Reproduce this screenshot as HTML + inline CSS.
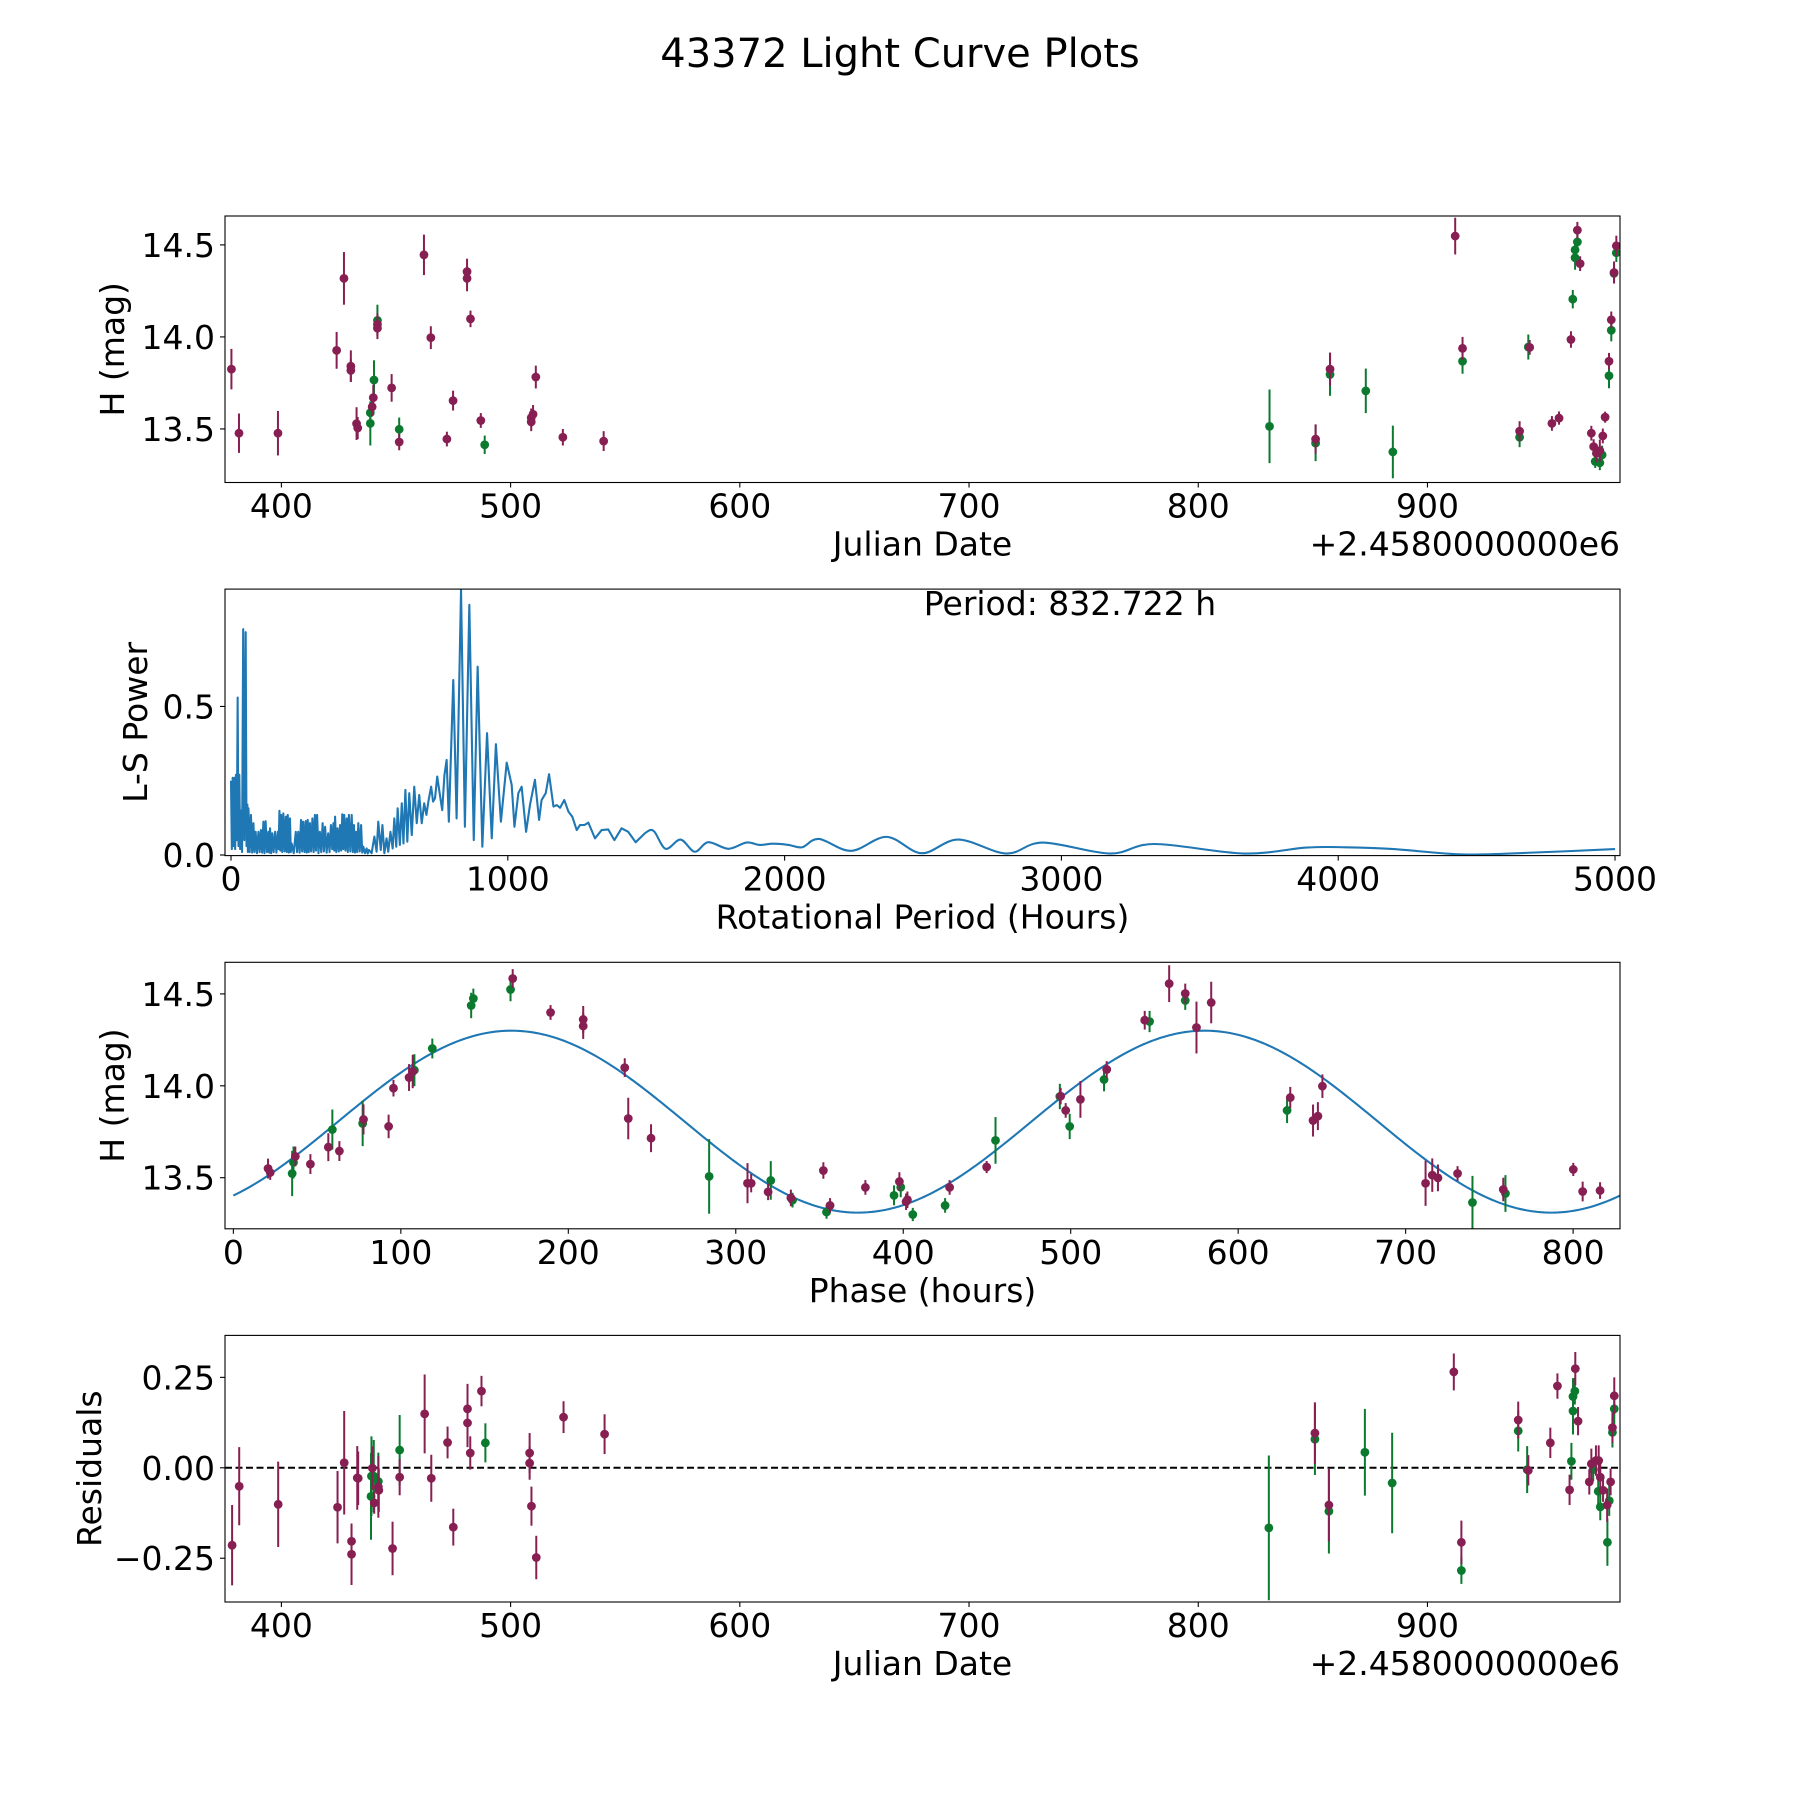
<!DOCTYPE html>
<html>
<head>
<meta charset="utf-8">
<style>
html,body{margin:0;padding:0;background:#fff;}
svg{display:block;font-family:"DejaVu Sans","Liberation Sans",sans-serif;}
</style>
</head>
<body>
<svg id="fig" width="1800" height="1800" viewBox="0 0 1800 1800" xmlns="http://www.w3.org/2000/svg">
<rect width="1800" height="1800" fill="#fff"/>
<text x="900" y="67" font-size="40" text-anchor="middle">43372 Light Curve Plots</text>
</svg>
<script>
// ---------- Panel 1: light curve ----------
const p1Dates=[378.2,381.5,398.5,424.1,427.3,430.3,430.3,432.8,433.3,438.8,438.8,439.6,440.1,440.4,441.9,441.9,441.9,448.1,451.4,451.4,462.2,465.2,472.2,474.9,481.0,481.0,482.5,487.0,488.7,509.0,509.0,509.8,511.0,522.8,540.6,831.1,851.2,851.2,857.5,857.5,873.1,884.9,912.1,915.3,915.3,940.2,940.2,944.0,944.6,954.3,957.4,962.6,963.4,964.4,964.4,965.4,965.4,966.6,971.5,972.5,973.2,973.7,975.2,975.2,976.2,976.5,977.5,979.2,979.2,980.2,980.2,981.4,981.4,982.4,982.4];
const p1Mags=[13.825,13.477,13.477,13.927,14.318,13.841,13.818,13.529,13.505,13.53,13.588,13.62,13.67,13.766,14.09,14.068,14.048,13.723,13.498,13.429,14.446,13.996,13.445,13.654,14.355,14.318,14.098,13.546,13.414,13.538,13.561,13.58,13.782,13.455,13.434,13.514,13.445,13.423,13.825,13.796,13.707,13.375,14.548,13.938,13.868,13.488,13.455,13.945,13.943,13.53,13.559,13.986,14.205,14.473,14.43,14.516,14.58,14.398,13.477,13.404,13.323,13.368,13.316,13.382,13.359,13.462,13.564,13.868,13.789,14.093,14.036,14.35,14.345,14.495,14.457];
const p1Errs=[0.11,0.107,0.121,0.10,0.143,0.086,0.06,0.089,0.06,0.12,0.04,0.05,0.07,0.107,0.085,0.06,0.06,0.075,0.064,0.045,0.11,0.062,0.04,0.054,0.07,0.07,0.045,0.04,0.05,0.05,0.05,0.05,0.062,0.045,0.054,0.2,0.08,0.098,0.09,0.116,0.121,0.143,0.1,0.062,0.068,0.054,0.054,0.068,0.04,0.04,0.036,0.045,0.05,0.05,0.065,0.05,0.045,0.04,0.04,0.04,0.035,0.05,0.04,0.06,0.05,0.04,0.03,0.045,0.068,0.045,0.06,0.06,0.05,0.055,0.05];
const p1Colors=["m","m","m","m","m","m","m","m","m","g","g","m","m","g","g","m","m","m","g","m","m","m","m","m","m","m","m","m","g","m","m","m","m","m","m","g","m","g","m","g","g","g","m","m","g","m","g","g","m","m","m","m","g","g","g","g","m","m","m","m","g","m","g","m","g","m","m","m","g","m","g","m","g","m","g"];
const p1XTicks=[400,500,600,700,800,900];
const p1YTicks=[13.5,14.0,14.5];
const p1YTickLabels=["13.5","14.0","14.5"];

// ---------- Panel 2: periodogram ----------
const lsShortPeriods=[0,3,6,9,12,15,18,21,24,27,30,33,36,40,44,48,53,56,59,61];
const lsShortPowers=[0.25,0.02,0.26,0.03,0.26,0.02,0.27,0.05,0.53,0.03,0.27,0.02,0.15,0.01,0.76,0.05,0.75,0.03,0.17,0.01];
const lsNoisePeakPeriods=[63,72,81,89,99,108,117,125,135,141,149,159,169,175,181,189,198,205,213,219,234,243,253,261,270,277,285,294,303,311,321,331,340,351,361,370,376,385,394,402,409,418,426,436,444,452,460,470,478,490,498];
const lsNoisePeakPowers=[0.157,0.135,0.107,0.078,0.078,0.084,0.112,0.114,0.078,0.09,0.073,0.078,0.078,0.149,0.135,0.14,0.129,0.135,0.123,0.039,0.078,0.078,0.118,0.112,0.114,0.118,0.107,0.123,0.135,0.135,0.078,0.107,0.095,0.073,0.101,0.107,0.129,0.09,0.101,0.137,0.135,0.123,0.135,0.135,0.101,0.078,0.107,0.101,0.028,0.022,0.017];
const lsNoiseValleyPowers=[0.01,0.008,0.01,0.006,0.01,0.008,0.006,0.01,0.008,0.006,0.01,0.008,0.02,0.015,0.01,0.012,0.01,0.008,0.01,0.006,0.01,0.008,0.012,0.01,0.008,0.01,0.012,0.01,0.015,0.006,0.01,0.012,0.008,0.01,0.02,0.015,0.01,0.012,0.015,0.02,0.015,0.01,0.012,0.01,0.008,0.01,0.012,0.008,0.006,0.005];
const lsMidPeriods=[508,518,526,532,541,547,554,562,568,576,584,590,597,602,610,617,623,630,637,644,653,662,671,680,689,698,706,713,723,730,737,745,753,763,771,779,787,803,815,831,845,861,877,891,908,925,942,957,975,996,1014,1024,1038,1050,1066,1080,1098,1113,1122,1137,1149,1165,1177,1189,1204,1219,1233,1249,1261,1277,1291,1315,1339,1363,1385,1411,1435,1462,1495];
const lsMidPowers=[0.006,0.062,0.011,0.112,0.017,0.101,0.006,0.056,0.011,0.078,0.022,0.123,0.028,0.157,0.034,0.174,0.039,0.219,0.045,0.208,0.067,0.23,0.107,0.202,0.107,0.174,0.135,0.18,0.23,0.18,0.191,0.264,0.213,0.151,0.269,0.32,0.112,0.589,0.123,0.892,0.095,0.842,0.05,0.634,0.028,0.41,0.056,0.373,0.112,0.311,0.236,0.095,0.208,0.23,0.078,0.168,0.253,0.118,0.185,0.208,0.272,0.163,0.168,0.159,0.185,0.146,0.129,0.084,0.101,0.101,0.109,0.056,0.084,0.086,0.05,0.09,0.078,0.043,0.073];
const lsTailPeriods=[1527,1570,1624,1675,1724,1797,1862,1910,1958,2014,2063,2124,2240,2369,2495,2627,2801,2933,3175,3336,3659,3885,4027,4200,4450,4700,5000];
const lsTailPowers=[0.081,0.021,0.052,0.011,0.043,0.021,0.042,0.034,0.038,0.034,0.026,0.054,0.014,0.061,0.006,0.052,0.005,0.042,0.005,0.037,0.005,0.025,0.026,0.02,0.002,0.008,0.02];
const lsXTicks=[0,1000,2000,3000,4000,5000];
const lsYTicks=[0.0,0.5];
const lsYTickLabels=["0.0","0.5"];
const bestPeriodLabel=["Period: 832.722 h"];

// ---------- Panel 3: phased curve ----------
const phHours=[20.7,22.0,35.1,35.9,37.0,46.0,56.7,59.1,63.3,77.2,77.7,92.7,95.6,104.9,107.1,108.1,118.8,142.0,143.3,165.5,166.8,189.4,208.9,208.9,233.7,235.8,249.4,284.1,307.0,309.2,319.3,320.9,332.9,333.9,352.3,354.2,356.3,377.4,394.5,397.7,398.5,401.7,402.5,405.7,425.0,427.7,449.8,455.1,493.5,494.0,497.0,499.4,505.8,519.9,521.5,544.2,547.1,558.8,568.4,568.4,575.1,583.9,629.2,631.1,644.7,647.6,650.3,711.9,715.9,719.3,731.0,739.9,758.3,759.6,800.1,805.7,816.1];
const phMags=[13.55,13.528,13.523,13.583,13.616,13.574,13.666,13.762,13.645,13.795,13.817,13.779,13.987,14.045,14.078,14.085,14.203,14.437,14.475,14.524,14.584,14.399,14.361,14.325,14.099,13.822,13.715,13.507,13.47,13.47,13.423,13.485,13.39,13.378,13.539,13.313,13.349,13.447,13.404,13.479,13.448,13.369,13.38,13.30,13.349,13.447,13.558,13.703,13.942,13.944,13.866,13.779,13.926,14.034,14.089,14.357,14.35,14.556,14.502,14.464,14.317,14.453,13.866,13.936,13.811,13.835,13.998,13.47,13.514,13.499,13.523,13.365,13.436,13.414,13.545,13.425,13.43];
const phErrs=[0.054,0.04,0.123,0.087,0.054,0.054,0.076,0.109,0.054,0.123,0.082,0.064,0.045,0.073,0.091,0.087,0.054,0.069,0.054,0.064,0.051,0.04,0.073,0.07,0.051,0.113,0.076,0.203,0.109,0.05,0.045,0.105,0.045,0.04,0.045,0.036,0.04,0.04,0.054,0.051,0.054,0.045,0.045,0.036,0.04,0.04,0.033,0.127,0.069,0.045,0.04,0.069,0.1,0.064,0.045,0.051,0.058,0.1,0.054,0.051,0.141,0.113,0.069,0.058,0.087,0.076,0.064,0.123,0.091,0.073,0.04,0.145,0.064,0.1,0.036,0.054,0.045];
const phColors=["m","m","g","g","m","m","m","g","m","g","m","m","m","m","m","g","g","g","g","g","m","m","m","m","m","m","m","g","m","m","m","g","m","g","m","g","m","m","g","m","g","m","m","g","g","m","m","g","g","m","m","g","m","g","m","m","g","m","m","g","m","m","g","m","m","m","m","m","m","m","m","g","m","g","m","m","m"];
// fitted sinusoid parameters: mean, amplitude, half-period (h), phase of peak (h), curve span (h)
const fitParams=[13.805,0.495,414,166,832.722];
const phXTicks=[0,100,200,300,400,500,600,700,800];
const phYTicks=[13.5,14.0,14.5];
const phYTickLabels=["13.5","14.0","14.5"];

// ---------- Panel 4: residuals ----------
const resDates=[378.5,381.6,398.6,424.5,427.4,430.6,430.6,433.1,433.5,439.1,439.3,439.7,440.3,440.5,442.3,442.3,442.5,448.5,451.6,451.6,462.5,465.4,472.5,475.0,481.2,481.2,482.4,487.3,489.0,508.3,508.3,509.1,511.2,523.1,541.0,830.8,850.9,850.9,857.0,857.0,872.7,884.6,911.5,914.8,914.8,939.6,939.6,943.5,944.0,953.6,956.7,962.0,962.8,963.5,963.5,964.3,964.5,965.7,970.6,971.5,972.3,973.5,974.7,974.5,975.4,975.4,976.6,978.4,978.5,979.3,979.9,980.7,980.7,981.5,981.5];
const resValues=[-0.214,-0.051,-0.101,-0.109,0.014,-0.203,-0.239,-0.028,-0.029,-0.079,-0.023,-0.001,-0.023,-0.097,-0.038,-0.053,-0.062,-0.223,0.049,-0.026,0.149,-0.029,0.07,-0.164,0.163,0.124,0.041,0.212,0.069,0.041,0.013,-0.106,-0.248,0.14,0.093,-0.166,0.096,0.079,-0.103,-0.12,0.043,-0.042,0.265,-0.206,-0.284,0.132,0.102,-0.005,-0.007,0.069,0.226,-0.061,0.018,0.157,0.197,0.212,0.274,0.129,-0.039,0.011,-0.005,0.02,0.02,-0.065,-0.026,-0.108,-0.062,-0.103,-0.206,-0.091,-0.039,0.111,0.098,0.199,0.163];
const resErrs=[0.111,0.108,0.118,0.1,0.143,0.04,0.085,0.088,0.074,0.12,0.11,0.06,0.1,0.03,0.08,0.085,0.06,0.074,0.097,0.05,0.109,0.065,0.044,0.051,0.069,0.067,0.046,0.042,0.054,0.055,0.046,0.054,0.06,0.044,0.055,0.2,0.085,0.099,0.1,0.117,0.12,0.139,0.051,0.06,0.037,0.051,0.057,0.065,0.042,0.042,0.035,0.042,0.051,0.065,0.051,0.037,0.046,0.039,0.035,0.042,0.032,0.042,0.042,0.037,0.042,0.037,0.032,0.046,0.065,0.042,0.037,0.042,0.042,0.051,0.042];
const resColors=["m","m","m","m","m","m","m","m","m","g","g","m","g","m","g","m","m","m","g","m","m","m","m","m","m","m","m","m","g","m","m","m","m","m","m","g","m","g","m","g","g","g","m","m","g","m","g","g","m","m","m","m","g","g","g","g","m","m","m","m","g","m","m","g","m","g","m","m","g","g","m","m","g","m","g"];
const resXTicks=[400,500,600,700,800,900];
const resYTicks=[-0.25,0.0,0.25];
const resYTickLabels=["\u22120.25","0.00","0.25"];

// ---------- rendering ----------
const NS="http://www.w3.org/2000/svg";
const svg=document.getElementById("fig");
const COL={m:"#871f52",g:"#0b7a2f"};
const L=225,R=1620;
const FS=33;
function mk(tag,attrs,parent){const e=document.createElementNS(NS,tag);for(const k in attrs)e.setAttribute(k,attrs[k]);(parent||svg).appendChild(e);return e;}
function lin(d0,d1,p0,p1){return v=>p0+(v-d0)*(p1-p0)/(d1-d0);}

function axes(name,top,bot,xd,yd,xticks,xlabels,yticks,ylabels,xlabel,ylabel,ylabelX){
  const g=mk("g",{});
  
  
  const sx=lin(xd[0],xd[1],L,R), sy=lin(yd[0],yd[1],bot,top);
  const cp=mk("clipPath",{id:"clip-"+name},g);
  mk("rect",{x:L,y:top,width:R-L,height:bot-top},cp);
  const plot=mk("g",{"clip-path":"url(#clip-"+name+")"},g);
  xticks.forEach((t,i)=>{
    const x=sx(t);
    const tk=mk("line",{x1:x,x2:x,y1:bot,y2:bot+5,stroke:"#000","stroke-width":1.1},g);
    
    
    const tl=mk("text",{x:x,y:bot+35,"font-size":FS,"text-anchor":"middle"},g);
    tl.textContent=xlabels[i];
    
    
  });
  yticks.forEach((t,i)=>{
    const y=sy(t);
    const tk=mk("line",{x1:L-5,x2:L,y1:y,y2:y,stroke:"#000","stroke-width":1.1},g);
    
    
    const tl=mk("text",{x:L-10,y:y+12,"font-size":FS,"text-anchor":"end"},g);
    tl.textContent=ylabels[i];
    
    
  });
  const xl=mk("text",{x:(L+R)/2,y:bot+73,"font-size":FS,"text-anchor":"middle"},g);
  xl.textContent=xlabel;
  
  
  const cy=(top+bot)/2;
  const yl=mk("text",{x:ylabelX,y:cy,"font-size":FS,"text-anchor":"middle",transform:"rotate(-90 "+ylabelX+" "+cy+")"},g);
  yl.textContent=ylabel;
  
  
  const fr=mk("rect",{x:L,y:top,width:R-L,height:bot-top,fill:"none",stroke:"#000","stroke-width":1.1},g);
  
  
  return {g,plot,sx,sy};
}
function errpts(ax,xs,ys,es,cs,name){
  ["g","m"].forEach(col=>{
    xs.forEach((x,i)=>{
      if(cs[i]!==col)return;
      const px=ax.sx(x),py=ax.sy(ys[i]);
      const eb=mk("line",{x1:px,x2:px,y1:ax.sy(ys[i]-es[i]),y2:ax.sy(ys[i]+es[i]),stroke:COL[col],"stroke-width":2},ax.plot);
      
      
      const c=mk("circle",{cx:px,cy:py,r:4.4,fill:COL[col]},ax.plot);
      
      
    });
  });
}
function offsetText(ax,bot){
  const t=mk("text",{x:R,y:bot+73,"font-size":FS,"text-anchor":"end"},ax.g);
  t.textContent="+2.4580000000e6";
  
  
}

// Panel 1
const a1=axes("light-curve-panel",216,482.5,[375.4,984],[13.209,14.657],p1XTicks,p1XTicks.map(String),p1YTicks,p1YTickLabels,"Julian Date","H (mag)",124);
errpts(a1,p1Dates,p1Mags,p1Errs,p1Colors,"light-curve");
offsetText(a1,482.5);

// Panel 2
const a2=axes("periodogram-panel",589.1,855.6,[-21.7,5018],[-0.002,0.895],lsXTicks,lsXTicks.map(String),lsYTicks,lsYTickLabels,"Rotational Period (Hours)","L-S Power",147);
{
  const per=[],pow=[];
  lsShortPeriods.forEach((p,i)=>{per.push(p);pow.push(lsShortPowers[i]);});
  lsNoisePeakPeriods.forEach((p,i)=>{
    per.push(p);pow.push(lsNoisePeakPowers[i]);
    if(i<lsNoisePeakPeriods.length-1){per.push((p+lsNoisePeakPeriods[i+1])/2);pow.push(lsNoiseValleyPowers[i]);}
  });
  lsMidPeriods.forEach((p,i)=>{per.push(p);pow.push(lsMidPowers[i]);});
  const sharpCount=per.length;
  lsTailPeriods.forEach((p,i)=>{per.push(p);pow.push(lsTailPowers[i]);});
  const pts=per.map((p,i)=>[a2.sx(p),a2.sy(pow[i])]);
  let d="M"+pts[0][0].toFixed(2)+","+pts[0][1].toFixed(2);
  for(let i=1;i<pts.length;i++){
    if(i<sharpCount){d+="L"+pts[i][0].toFixed(2)+","+pts[i][1].toFixed(2);}
    else{
      const p0=pts[i-2]||pts[i-1],p1=pts[i-1],p2=pts[i],p3=pts[i+1]||pts[i];
      const c1=[p1[0]+(p2[0]-p0[0])/6,p1[1]+(p2[1]-p0[1])/6];
      const c2=[p2[0]-(p3[0]-p1[0])/6,p2[1]-(p3[1]-p1[1])/6];
      d+="C"+c1[0].toFixed(2)+","+c1[1].toFixed(2)+" "+c2[0].toFixed(2)+","+c2[1].toFixed(2)+" "+p2[0].toFixed(2)+","+p2[1].toFixed(2);
    }
  }
  const pl=mk("path",{d:d,fill:"none",stroke:"#1f77b4","stroke-width":2.1,"stroke-linejoin":"round"},a2.plot);
  
  
  const pt=mk("text",{x:1070,y:615,"font-size":FS,"text-anchor":"middle"},a2.g);
  pt.textContent=bestPeriodLabel[0];
  
  
}

// Panel 3
const a3=axes("phase-panel",962.3,1228.8,[-5,828],[13.222,14.672],phXTicks,phXTicks.map(String),phYTicks,phYTickLabels,"Phase (hours)","H (mag)",124);
{
  const [mean,amp,half,peak,span]=fitParams;
  let d="";
  for(let i=0;i<=400;i++){
    const t=span*i/400;
    const v=mean+amp*Math.cos(2*Math.PI*(t-peak)/half);
    d+=(i?"L":"M")+a3.sx(t).toFixed(2)+","+a3.sy(v).toFixed(2);
  }
  const fl=mk("path",{d:d,fill:"none",stroke:"#1f77b4","stroke-width":2.1},a3.plot);
  
  
}
errpts(a3,phHours,phMags,phErrs,phColors,"phased");

// Panel 4
const a4=axes("residuals-panel",1335.4,1602,[375.4,984],[-0.371,0.366],resXTicks,resXTicks.map(String),resYTicks,resYTickLabels,"Julian Date","Residuals",101);
{
  const zl=mk("line",{x1:L,x2:R,y1:a4.sy(0),y2:a4.sy(0),stroke:"#000","stroke-width":2,"stroke-dasharray":"7,3.5"},a4.plot);
  
  
}
errpts(a4,resDates,resValues,resErrs,resColors,"residual");
offsetText(a4,1602);
</script>
</body>
</html>
